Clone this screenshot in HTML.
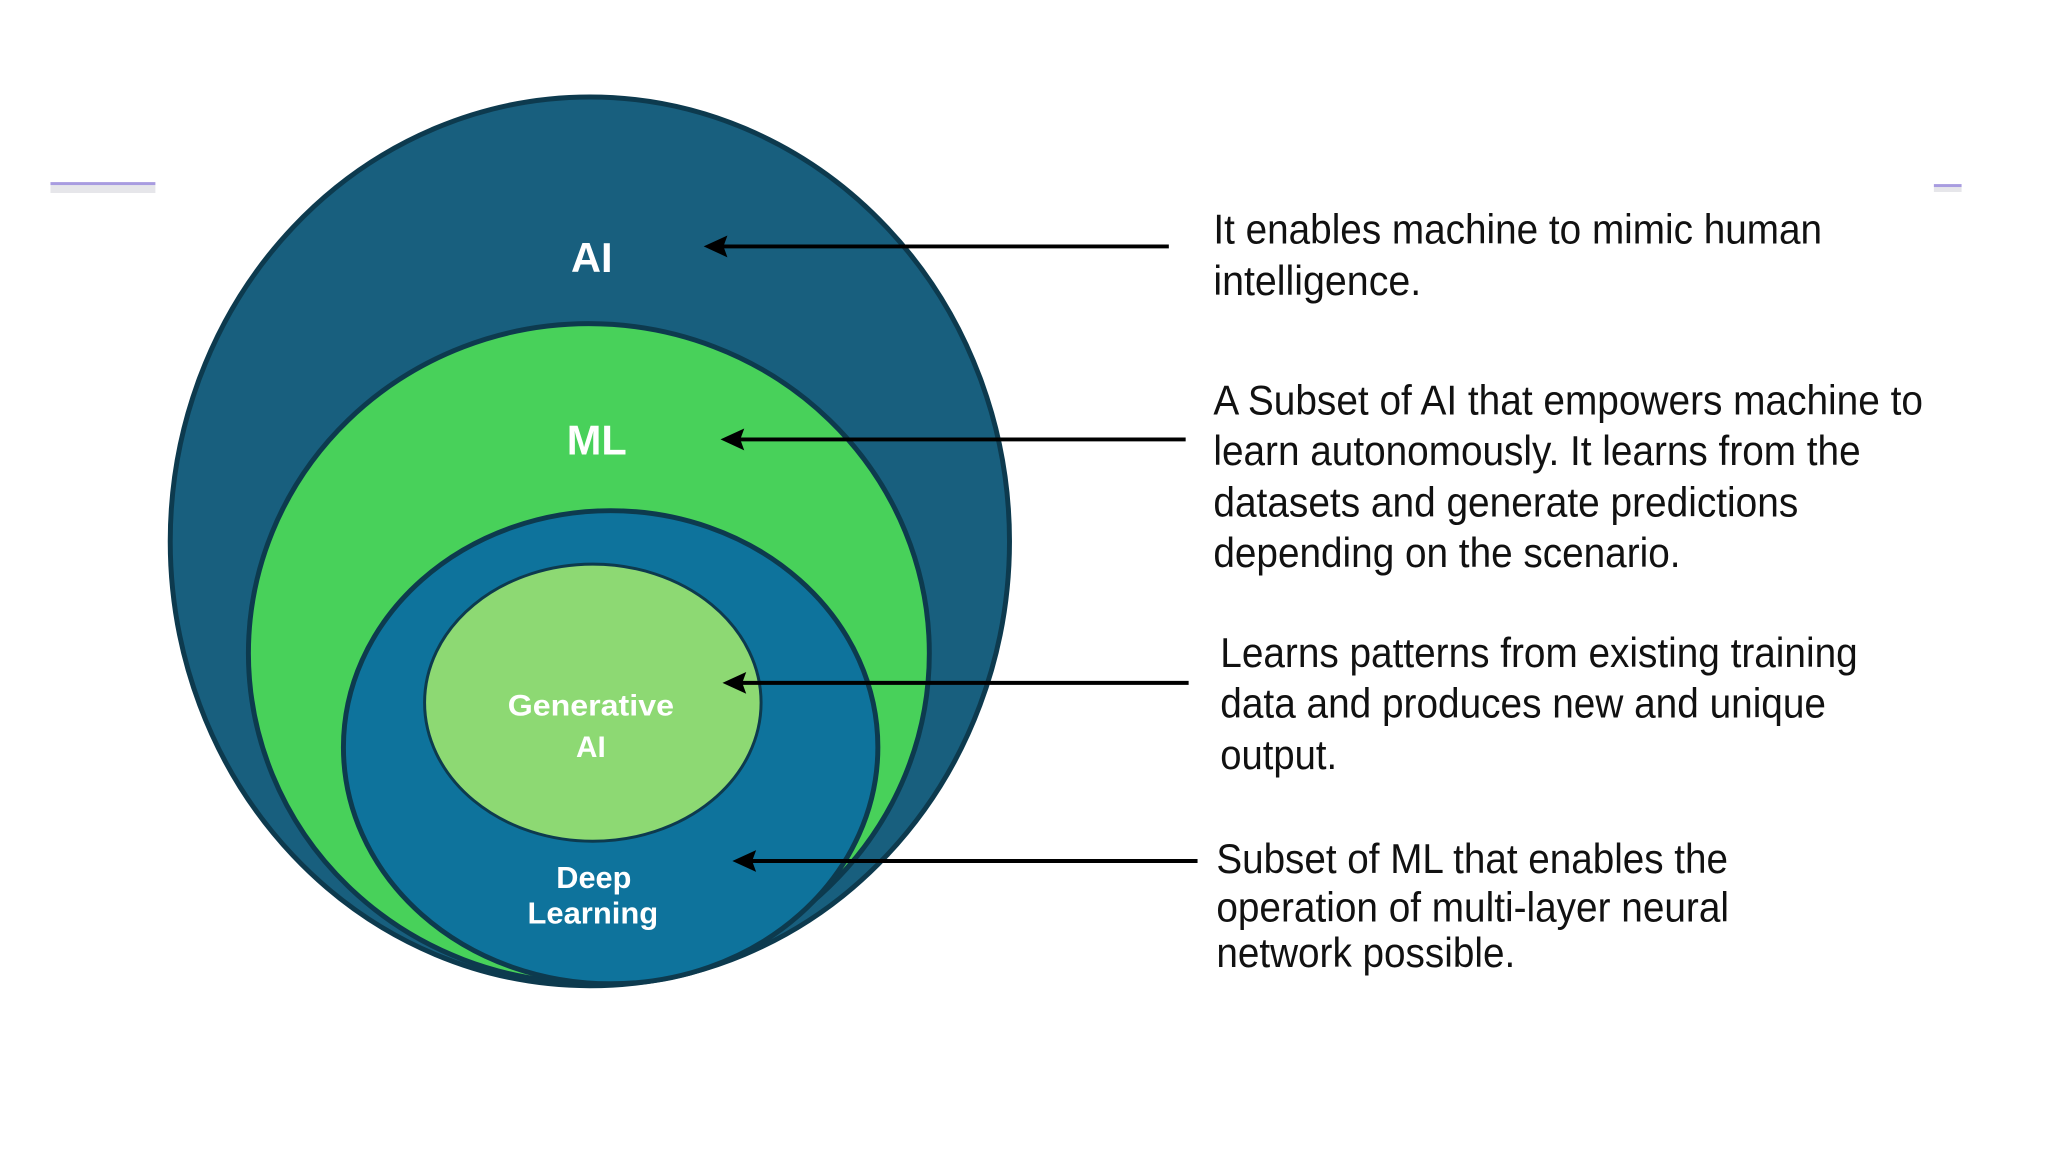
<!DOCTYPE html>
<html><head><meta charset="utf-8"><style>
html,body{margin:0;padding:0;background:#fff;width:2048px;height:1152px;overflow:hidden}
svg{display:block}
</style></head><body>
<svg width="2048" height="1152" viewBox="0 0 2048 1152" xmlns="http://www.w3.org/2000/svg">
<g transform="scale(0.9897)">
<rect x="51" y="187" width="106" height="8" fill="#e6e6ea"/>
<rect x="51" y="184" width="106" height="3" fill="#a89ce0"/>
<rect x="1954" y="189" width="28" height="5" fill="#e6e6ea"/>
<rect x="1954" y="186" width="28" height="3" fill="#a89ce0"/>

<ellipse cx="596" cy="547" rx="424" ry="449" fill="#185f7e" stroke="#0d3a4e" stroke-width="5"/>
<ellipse cx="595" cy="660" rx="344" ry="333" fill="#48d15a" stroke="#0d3a4e" stroke-width="5"/>
<ellipse cx="617" cy="755" rx="270" ry="239" fill="#0e739c" stroke="#0d3a4e" stroke-width="5"/>
<ellipse cx="599" cy="710" rx="170" ry="140" fill="#8dd973" stroke="#0d3a4e" stroke-width="3"/>

<g font-family="Liberation Sans, Arial, sans-serif" font-weight="bold" fill="#fff" text-anchor="middle">
<text x="598" y="275" font-size="42">AI</text>
<text x="603" y="459" font-size="42">ML</text>
<text x="597" y="723" font-size="30" textLength="168" lengthAdjust="spacingAndGlyphs">Generative</text>
<text x="597" y="765" font-size="30">AI</text>
<text x="600" y="897" font-size="31">Deep</text>
<text x="599" y="933" font-size="31" textLength="132" lengthAdjust="spacingAndGlyphs">Learning</text>
</g>

<g stroke="#000" stroke-width="4">
<line x1="1181" y1="249" x2="725" y2="249"/>
<line x1="1198" y1="444" x2="742" y2="444"/>
<line x1="1201" y1="690" x2="744" y2="690"/>
<line x1="1210" y1="870" x2="754" y2="870"/>
</g>
<g fill="#000">
<polygon points="711,249 735,238 731,249 735,260"/>
<polygon points="728,444 752,433 748,444 752,455"/>
<polygon points="730,690 754,679 750,690 754,701"/>
<polygon points="740,870 764,859 760,870 764,881"/>
</g>

<g font-family="Liberation Sans, Arial, sans-serif" font-size="42" fill="#111">
<text x="1226" y="246" textLength="615" lengthAdjust="spacingAndGlyphs">It enables machine to mimic human</text>
<text x="1226" y="298" textLength="210" lengthAdjust="spacingAndGlyphs">intelligence.</text>
<text x="1226" y="419" textLength="717" lengthAdjust="spacingAndGlyphs">A Subset of AI that empowers machine to</text>
<text x="1226" y="470" textLength="654" lengthAdjust="spacingAndGlyphs">learn autonomously. It learns from the</text>
<text x="1226" y="522" textLength="591" lengthAdjust="spacingAndGlyphs">datasets and generate predictions</text>
<text x="1226" y="573" textLength="472" lengthAdjust="spacingAndGlyphs">depending on the scenario.</text>
<text x="1233" y="674" textLength="644" lengthAdjust="spacingAndGlyphs">Learns patterns from existing training</text>
<text x="1233" y="725" textLength="612" lengthAdjust="spacingAndGlyphs">data and produces new and unique</text>
<text x="1233" y="777" textLength="118" lengthAdjust="spacingAndGlyphs">output.</text>
<text x="1229" y="882" textLength="517" lengthAdjust="spacingAndGlyphs">Subset of ML that enables the</text>
<text x="1229" y="931" textLength="518" lengthAdjust="spacingAndGlyphs">operation of multi-layer neural</text>
<text x="1229" y="977" textLength="302" lengthAdjust="spacingAndGlyphs">network possible.</text>
</g>
</g>
</svg>
</body></html>
